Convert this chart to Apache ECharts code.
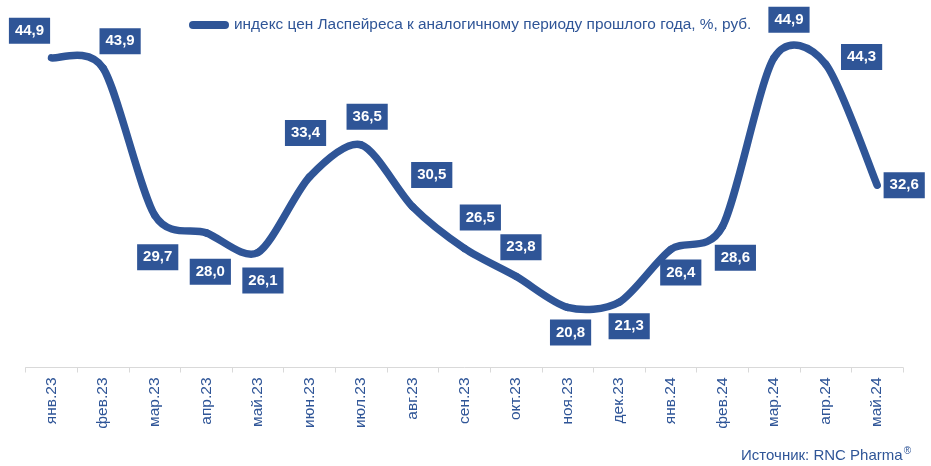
<!DOCTYPE html>
<html>
<head>
<meta charset="utf-8">
<script src="https://cdn.jsdelivr.net/npm/echarts@6/dist/echarts.min.js"></script>
<style>
html,body{margin:0;padding:0;background:#fff;}
#chart{width:931px;height:466px;}
</style>
</head>
<body>
<div id="chart"></div>
<script>
const categories = ['янв.23','фев.23','мар.23','апр.23','май.23','июн.23','июл.23','авг.23','сен.23','окт.23','ноя.23','дек.23','янв.24','фев.24','мар.24','апр.24','май.24'];
const values = [44.9, 43.9, 29.7, 28.0, 26.1, 33.4, 36.5, 30.5, 26.5, 23.8, 20.8, 21.3, 26.4, 28.6, 44.9, 44.3, 32.6];
const seriesName = 'индекс цен Ласпейреса к аналогичному периоду прошлого года, %, руб.';
const sourceText = 'Источник: RNC Pharma';

// label placement (layout only)
const labelOffsets = [[-22,-27],[17,-27],[3,42],[4,39],[5,28],[-4,-44],[6,-28],[19,-32],[16,-31],[5,-29],[3,25],[10,24],[10,23],[13,31],[15,-38],[36,-7],[27,0]];

const blue = '#2F5597';
const chart = echarts.init(document.getElementById('chart'));
const fmt = v => v.toFixed(1).replace('.', ',');
const K = 0.84 / 6; // spline tension

function renderSegment(params, api) {
  const i = params.dataIndex;
  const n = values.length;
  if (i >= n - 1) return null;
  const P = j => api.coord([Math.max(0, Math.min(n - 1, j)), values[Math.max(0, Math.min(n - 1, j))]]);
  const p0 = P(i - 1), p1 = P(i), p2 = P(i + 1), p3 = P(i + 2);
  return {
    type: 'bezierCurve',
    shape: {
      x1: p1[0], y1: p1[1], x2: p2[0], y2: p2[1],
      cpx1: p1[0] + (p2[0] - p0[0]) * K, cpy1: p1[1] + (p2[1] - p0[1]) * K,
      cpx2: p2[0] - (p3[0] - p1[0]) * K, cpy2: p2[1] - (p3[1] - p1[1]) * K
    },
    style: {stroke: blue, fill: null, lineWidth: 7.5, lineCap: 'round', lineJoin: 'round'}
  };
}

chart.setOption({
  animation: false,
  grid: {left: 25.7, right: 28, top: 5, bottom: 98.5, containLabel: false},
  legend: {
    data: [seriesName],
    top: 17.5,
    left: 189,
    padding: 0,
    itemWidth: 40,
    itemHeight: 8,
    itemGap: 0,
    icon: 'path://M4,0 L36,0 A4,4 0 0 1 36,8 L4,8 A4,4 0 0 1 4,0 Z',
    textStyle: {color: blue, fontSize: 15.4, fontFamily: 'Liberation Sans'}
  },
  xAxis: {
    type: 'category',
    data: categories,
    boundaryGap: true,
    axisLine: {lineStyle: {color: '#d9d9d9', width: 1}},
    axisTick: {show: true, length: 5, lineStyle: {color: '#d9d9d9'}},
    axisLabel: {rotate: 90, color: blue, fontSize: 15.5, fontFamily: 'Liberation Sans', margin: 10, interval: 0}
  },
  yAxis: {
    type: 'value', min: 15, max: 50, show: false,
    splitLine: {show: false}
  },
  graphic: [{
    type: 'text', right: 20, top: 446,
    style: {
      text: '{a|' + sourceText + '}{r|®}',
      rich: {
        a: {fill: blue, fontSize: 15, fontFamily: 'Liberation Sans'},
        r: {fill: blue, fontSize: 10, fontFamily: 'Liberation Sans', padding: [0, 0, 9, 1]}
      }
    }
  }],
  series: [{
    name: seriesName,
    type: 'custom',
    coordinateSystem: 'cartesian2d',
    clip: false,
    z: 2,
    itemStyle: {color: blue},
    encode: {x: 0, y: 1},
    data: values.map((v, i) => [i, v]),
    renderItem: renderSegment
  }, {
    name: seriesName,
    type: 'line',
    z: 3,
    symbol: 'circle',
    symbolSize: 1,
    showSymbol: true,
    itemStyle: {color: blue},
    lineStyle: {width: 0, opacity: 0},
    emphasis: {disabled: true},
    data: values.map((v, i) => ({
      value: v,
      label: {offset: labelOffsets[i]}
    })),
    label: {
      show: true,
      position: 'inside',
      formatter: p => fmt(p.value),
      color: '#fff',
      fontWeight: 'bold',
      fontSize: 15,
      fontFamily: 'Liberation Sans',
      backgroundColor: blue,
      padding: [5, 6, 5, 6],
      lineHeight: 16
    }
  }]
});
</script>
</body>
</html>
